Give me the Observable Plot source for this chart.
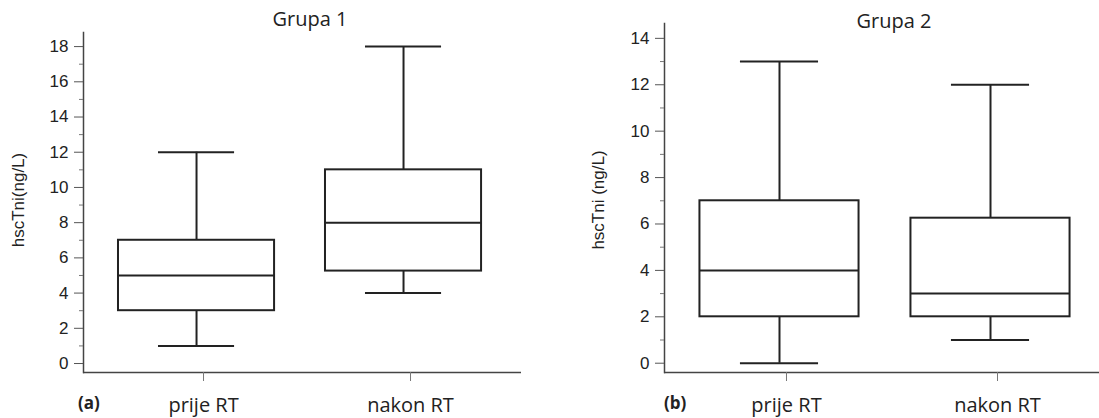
<!DOCTYPE html>
<html><head><meta charset="utf-8">
<script src="https://cdn.jsdelivr.net/npm/d3@7"></script>
<script src="https://cdn.jsdelivr.net/npm/@observablehq/plot@0.6"></script>
<style>
html,body{margin:0;padding:0;background:#fff;overflow:hidden;width:1099px;height:418px}
#wrap{position:relative;width:1099px;height:418px;overflow:hidden}
.panel{position:absolute;top:0}
.panel svg{max-width:none !important}
.title{position:absolute;font-family:"Open Sans";font-size:20px;line-height:normal;color:#222;white-space:nowrap;transform:translateX(-50%)}
.tag{position:absolute;font-family:"Open Sans";font-weight:bold;font-size:17px;line-height:normal;color:#222}
.ylab{position:absolute;font-family:"Liberation Sans",Arial,sans-serif;font-size:17px;line-height:1;color:#222;white-space:nowrap;transform:translate(-50%,-50%) rotate(-90deg)}
</style></head>
<body><div id="wrap"></div>
<script>
const categories = ["prije RT", "nakon RT"];
// Grupa 1
const g1Min = [1, 4];
const g1Q1 = [3, 5.25];
const g1Med = [5, 8];
const g1Q3 = [7, 11];
const g1Max = [12, 18];
const g1Ticks = [0, 2, 4, 6, 8, 10, 12, 14, 16, 18];
const g1Minor = [1, 3, 5, 7, 9, 11, 13, 15, 17];
// Grupa 2
const g2Min = [0, 1];
const g2Q1 = [2, 2];
const g2Med = [4, 3];
const g2Q3 = [7, 6.25];
const g2Max = [13, 12];
const g2Ticks = [0, 2, 4, 6, 8, 10, 12, 14];
const g2Minor = [1, 3, 5, 7, 9, 11, 13];

const ink = "#222";
function panel(o) {
  const rows = categories.map((c, i) => ({cat: c, min: o.min[i], q1: o.q1[i], med: o.med[i], q3: o.q3[i], max: o.max[i]}));
  return Plot.plot({
    width: o.width, height: 418,
    marginLeft: o.ml, marginRight: o.mr, marginTop: o.mt, marginBottom: 46,
    style: {fontFamily: "'Liberation Sans', Arial, sans-serif", fontSize: "17px", color: ink, background: "transparent", overflow: "visible", maxWidth: "none"},
    x: {domain: categories, paddingInner: 0.246, paddingOuter: o.po, align: o.align, round: false, label: null},
    y: {domain: o.ydom, label: null},
    marks: [
      Plot.ruleY([o.ydom[0]], {stroke: "#444", strokeWidth: 1.5}),
      Plot.frame({anchor: "left", stroke: "#444", strokeWidth: 1.5}),
      Plot.ruleX(rows, {x: "cat", y1: "min", y2: "max", stroke: ink, strokeWidth: 2}),
      Plot.barY(rows, {x: "cat", y1: "q1", y2: "q3", fill: "white", stroke: ink, strokeWidth: 2}),
      Plot.tickY(rows, {x: "cat", y: "med", stroke: ink, strokeWidth: 2}),
      Plot.tickY(rows, {x: "cat", y: "min", stroke: ink, strokeWidth: 2, inset: o.capInset}),
      Plot.tickY(rows, {x: "cat", y: "max", stroke: ink, strokeWidth: 2, inset: o.capInset}),
      Plot.axisY({ticks: o.major, tickSize: 9, tickPadding: 6, stroke: "#555", label: null, fontSize: 17}),
      Plot.axisY({ticks: o.minor, tickSize: 4, tickFormat: () => "", stroke: "#777", label: null}),
      Plot.axisX({tickSize: 9, tickPadding: 16, stroke: "#777", fontFamily: "'Open Sans'", fontSize: 20, dx: 7, label: null})
    ]
  });
}

const wrap = document.getElementById("wrap");
const p1 = panel({width: 549, ml: 83, mr: 28, mt: 32, po: 0.181, align: 0.467, ydom: [-0.51, 18.8],
  min: g1Min, q1: g1Q1, med: g1Med, q3: g1Q3, max: g1Max, major: g1Ticks, minor: g1Minor,
  capInset: 40});
const p2 = panel({width: 560, ml: 115, mr: 4, mt: 23, po: 0.168, align: 0.5, ydom: [-0.40, 14.64],
  min: g2Min, q1: g2Q1, med: g2Med, q3: g2Q3, max: g2Max, major: g2Ticks, minor: g2Minor,
  capInset: 40.5});
const d1 = document.createElement("div"); d1.className = "panel"; d1.style.left = "0px"; d1.style.width = "549px"; d1.appendChild(p1); wrap.appendChild(d1);
const d2 = document.createElement("div"); d2.className = "panel"; d2.style.left = "549px"; d2.style.width = "560px"; d2.appendChild(p2); wrap.appendChild(d2);

function addText(cls, txt, left, top) {
  const s = document.createElement("div"); s.className = cls; s.textContent = txt;
  s.style.left = left + "px"; s.style.top = top + "px"; wrap.appendChild(s);
}
addText("title", "Grupa 1", 310, 5);
addText("title", "Grupa 2", 894, 7);
addText("tag", "(a)", 78, 391);
addText("tag", "(b)", 664, 391);
addText("ylab", "hscTni(ng/L)", 18, 200);
addText("ylab", "hscTni (ng/L)", 598, 200);
</script>
</body></html>
